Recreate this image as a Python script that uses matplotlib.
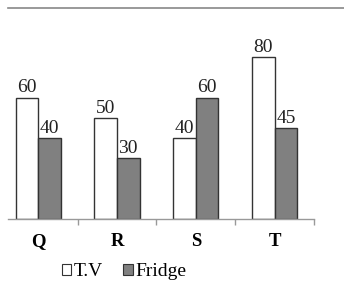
import matplotlib.pyplot as plt
import numpy as np
from matplotlib.lines import Line2D

categories = ['Q', 'R', 'S', 'T']
tv = [60, 50, 40, 80]
fridge = [40, 30, 60, 45]

plt.rcParams['font.family'] = ['Liberation Serif', 'DejaVu Serif']

fig = plt.figure(figsize=(3.44, 2.84), dpi=100)
ax = fig.add_axes([8 / 344, 65 / 284, 306 / 344, 211 / 284])

x = np.arange(len(categories))
w = 0.286
b1 = ax.bar(x - w / 2, tv, w, color='white', edgecolor='#333333', linewidth=1)
b2 = ax.bar(x + w / 2, fridge, w, color='#808080', edgecolor='#333333', linewidth=1)

for bars in (b1, b2):
    for rect in bars:
        h = rect.get_height()
        ax.annotate(f'{h:g}', (rect.get_x() + rect.get_width() / 2, h),
                    xytext=(0, 1), textcoords='offset points',
                    ha='center', va='bottom', fontsize=14, color='#222222')

ax.set_xlim(-0.383, 3.5)
ax.set_ylim(0, 104.5)

for s in ('top', 'right', 'left'):
    ax.spines[s].set_visible(False)
ax.spines['bottom'].set_color('#999999')
ax.spines['bottom'].set_linewidth(1)

ax.set_yticks([])
ax.set_xticks(x)
ax.set_xticklabels(categories, fontsize=13.5, fontweight='bold')
ax.tick_params(axis='x', which='major', length=0, pad=10)
ax.set_xticks([0.5, 1.5, 2.5, 3.5], minor=True)
ax.tick_params(axis='x', which='minor', length=4, color='#999999', width=1)

# top border line
fig.add_artist(Line2D([8 / 344, 1], [276 / 284, 276 / 284],
                      color='#888888', linewidth=1.2))

handles = [
    plt.Rectangle((0, 0), 1, 1, facecolor='white', edgecolor='#333333', linewidth=0.8),
    plt.Rectangle((0, 0), 1, 1, facecolor='#808080', edgecolor='#333333', linewidth=0.8),
]
fig.legend(handles, ['T.V', 'Fridge'], loc='center', bbox_to_anchor=(124 / 344, 12.5 / 284),
           ncol=2, frameon=False, fontsize=14, handlelength=0.5, handleheight=0.5,
           handletextpad=0.15, columnspacing=1.0)

fig.savefig('out.png', dpi=100)
